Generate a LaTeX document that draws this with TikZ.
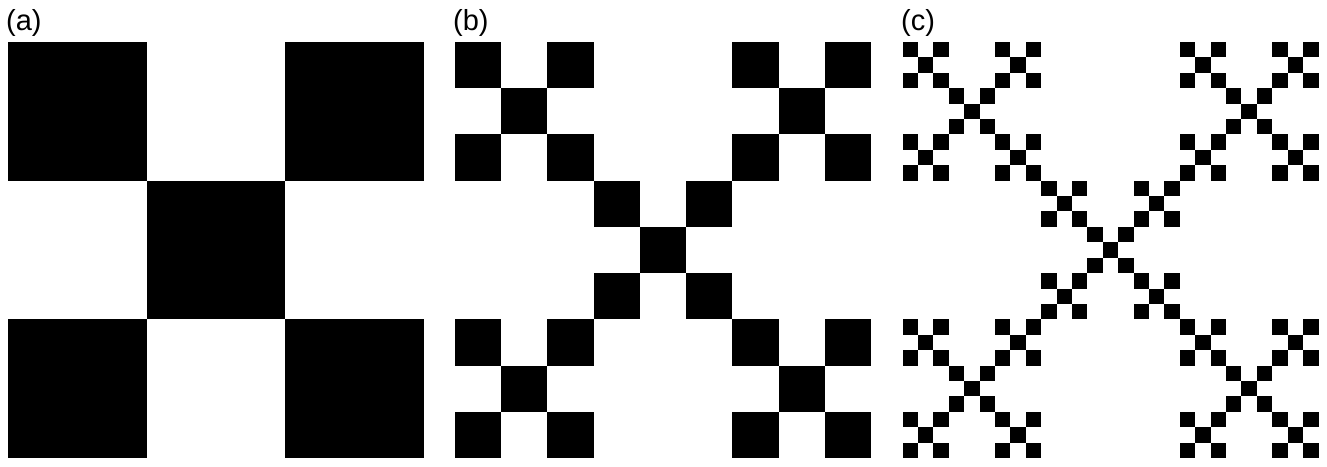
\documentclass[tikz,border=0pt]{standalone}
\usepackage{fontspec}
\setmainfont{Liberation Sans}
\begin{document}
\begin{tikzpicture}[x=1pt,y=-1pt]
\useasboundingbox (0,0) rectangle (1327,466);
\tikzset{lbl/.style={anchor=base west,inner sep=0pt,font=\fontsize{29}{33}\selectfont}}
\def\pts{0/0,0/2,1/1,2/0,2/2}
% panel (a)
\node[lbl] (la) at (6,30) {(a)};
\foreach \a/\b in \pts {
  \fill[black] ({8+\a*416/3},{42+\b*416/3}) rectangle ++(416/3,416/3);
}
% panel (b)
\node[lbl] (lb) at (453,30) {(b)};
\foreach \a/\b in \pts {
  \foreach \c/\d in \pts {
    \fill[black] ({455+\a*416/3+\c*416/9},{42+\b*416/3+\d*416/9}) rectangle ++(416/9,416/9);
  }
}
% panel (c)
\node[lbl] (lc) at (901,30) {(c)};
\foreach \a/\b in \pts {
  \foreach \c/\d in \pts {
    \foreach \e/\f in \pts {
      \fill[black] ({902.5+\a*416/3+\c*416/9+\e*416/27},{42+\b*416/3+\d*416/9+\f*416/27}) rectangle ++(416/27,416/27);
    }
  }
}
\end{tikzpicture}
\end{document}
